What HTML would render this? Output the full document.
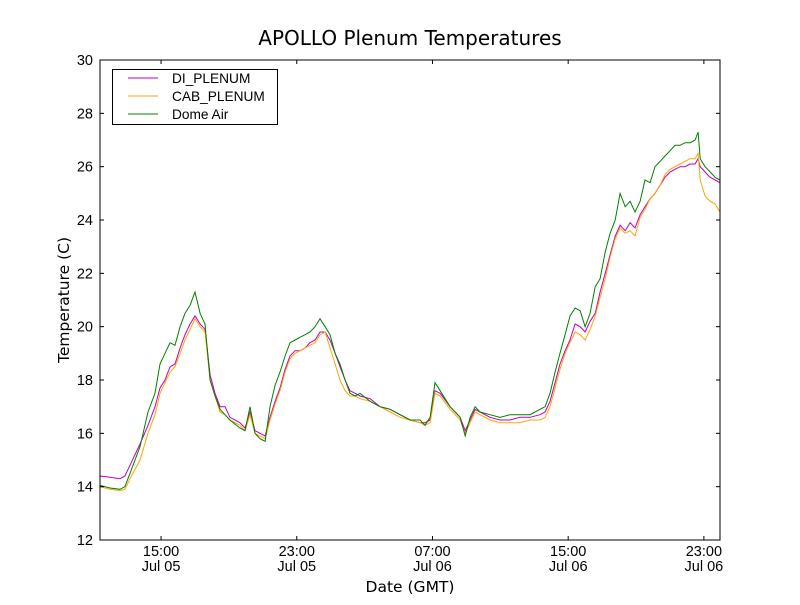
<!DOCTYPE html>
<html><head><meta charset="utf-8"><style>
body{margin:0;background:#fff}
svg text{font-family:"Liberation Sans","DejaVu Sans",sans-serif;fill:#000}
svg text.dv{font-family:"DejaVu Sans","Liberation Sans",sans-serif}
</style></head><body>
<svg id="chart" width="800" height="600" xmlns="http://www.w3.org/2000/svg">
<rect width="800" height="600" fill="#fff"/>
<text class="dv" x="410" y="45" font-size="20" text-anchor="middle">APOLLO Plenum Temperatures</text>
<g id="plot"></g>
<text class="dv" x="410" y="592" font-size="15.5" text-anchor="middle">Date (GMT)</text>
<text class="dv" transform="translate(69,300) rotate(-90)" font-size="15.5" text-anchor="middle">Temperature (C)</text>
</svg>
<script>
const hours=[11.40,11.99,12.58,12.87,13.17,13.76,14.23,14.64,14.94,15.23,15.53,15.82,16.12,16.41,16.71,17.00,17.30,17.59,17.89,18.18,18.48,18.77,19.06,19.65,19.95,20.24,20.54,20.83,21.13,21.42,21.72,22.01,22.31,22.60,22.90,23.19,23.49,23.78,24.08,24.37,24.67,24.96,25.26,25.55,25.85,26.14,26.44,26.73,27.32,27.91,28.50,29.09,29.68,30.27,30.56,30.86,31.15,31.45,32.04,32.63,32.93,33.22,33.51,33.80,34.39,34.98,35.57,36.16,36.75,37.34,37.64,37.93,38.23,38.52,38.82,39.11,39.41,39.70,40.00,40.29,40.59,40.88,41.18,41.47,41.77,42.06,42.36,42.65,42.94,43.24,43.53,43.83,44.12,44.42,44.71,45.01,45.30,45.60,45.89,46.19,46.48,46.66,46.78,47.07,47.37,47.66,47.95];
const diPlenum=[14.4,14.35,14.3,14.4,14.8,15.6,16.3,17.0,17.7,18.0,18.5,18.6,19.2,19.7,20.1,20.4,20.1,19.9,18.2,17.5,17.0,17.0,16.6,16.4,16.2,16.8,16.1,16.0,15.9,16.6,17.2,17.7,18.4,18.9,19.1,19.1,19.2,19.4,19.5,19.8,19.8,19.5,19.0,18.5,18.0,17.6,17.5,17.4,17.3,17.0,16.9,16.7,16.5,16.4,16.4,16.5,17.6,17.5,17.0,16.6,16.1,16.5,16.9,16.8,16.6,16.5,16.5,16.6,16.6,16.7,16.8,17.2,17.9,18.6,19.1,19.5,20.1,20.0,19.8,20.2,20.5,21.3,22.0,22.7,23.4,23.8,23.6,23.9,23.7,24.2,24.5,24.8,25.0,25.3,25.6,25.8,25.9,26.0,26.0,26.1,26.1,26.3,26.0,25.8,25.6,25.5,25.4];
const cabPlenum=[14.0,13.9,13.85,13.9,14.3,15.0,16.0,16.7,17.5,17.9,18.3,18.5,19.0,19.5,19.9,20.3,20.0,19.8,18.0,17.4,16.8,16.7,16.5,16.3,16.1,16.7,16.0,15.9,15.8,16.5,17.1,17.6,18.3,18.8,19.0,19.1,19.2,19.3,19.4,19.7,19.8,19.2,18.6,18.0,17.6,17.4,17.4,17.3,17.2,17.0,16.8,16.6,16.5,16.4,16.3,16.4,17.5,17.4,16.9,16.5,16.0,16.4,16.8,16.7,16.5,16.4,16.4,16.4,16.5,16.5,16.6,17.0,17.7,18.4,19.0,19.4,19.8,19.7,19.5,19.9,20.4,21.1,21.8,22.6,23.3,23.7,23.5,23.6,23.4,24.1,24.4,24.8,25.0,25.3,25.7,25.9,26.0,26.1,26.2,26.3,26.3,26.5,25.5,24.9,24.7,24.6,24.3];
const domeAir=[14.05,13.95,13.9,14.0,14.5,15.5,16.8,17.5,18.6,19.0,19.4,19.3,20.0,20.5,20.8,21.3,20.5,20.1,18.0,17.4,16.9,16.7,16.5,16.2,16.1,17.0,16.0,15.8,15.7,17.0,17.8,18.3,18.9,19.4,19.5,19.6,19.7,19.8,20.0,20.3,20.0,19.7,19.0,18.6,18.0,17.5,17.4,17.5,17.2,17.0,16.9,16.7,16.5,16.5,16.3,16.6,17.9,17.6,17.0,16.6,15.9,16.6,17.0,16.8,16.7,16.6,16.7,16.7,16.7,16.9,17.0,17.5,18.3,19.0,19.7,20.4,20.7,20.6,20.0,20.5,21.5,21.8,22.8,23.5,24.0,25.0,24.5,24.7,24.3,24.7,25.5,25.4,26.0,26.2,26.4,26.6,26.8,26.8,26.9,26.9,27.0,27.3,26.3,26.0,25.8,25.6,25.5];
const yTicks=[12,14,16,18,20,22,24,26,28,30];
const xTickHours=[15,23,31,39,47];
const xTickTimes=["15:00","23:00","07:00","15:00","23:00"];
const xTickDates=["Jul 05","Jul 05","Jul 06","Jul 06","Jul 06"];
const seriesNames=["DI_PLENUM","CAB_PLENUM","Dome Air"];
const seriesColors=["#bf00bf","#ffa500","#008000"];

const L=100,R=720,T=60,B=540,xMin=11.4,xMax=47.95,yMin=12,yMax=30;
const xs=h=>L+(h-xMin)/(xMax-xMin)*(R-L);
const ys=v=>B-(v-yMin)/(yMax-yMin)*(B-T);
const NS="http://www.w3.org/2000/svg";
const g=document.getElementById('plot');
function mk(tag,attrs,parent){const e=document.createElementNS(NS,tag);for(const k in attrs)e.setAttribute(k,attrs[k]);(parent||g).appendChild(e);return e;}

const clip=mk('clipPath',{id:'c'});mk('rect',{x:L,y:T,width:R-L,height:B-T},clip);
const data=[diPlenum,cabPlenum,domeAir];
const lineNames=['di-plenum-line','cab-plenum-line','dome-air-line'];
data.forEach((arr,i)=>{
  const d=arr.map((v,j)=>(j?'L':'M')+xs(hours[j]).toFixed(1)+' '+ys(v).toFixed(1)).join(' ');
  const p=mk('path',{d:d,fill:'none',stroke:seriesColors[i],'stroke-width':1,'clip-path':'url(#c)'});
  
  
});
const frame=mk('rect',{x:L,y:T,width:R-L,height:B-T,fill:'none',stroke:'#000','stroke-width':1});



yTicks.forEach(v=>{
  const y=ys(v);
  mk('line',{x1:L,x2:L+4,y1:y,y2:y,stroke:'#000'});
  mk('line',{x1:R,x2:R-4,y1:y,y2:y,stroke:'#000'});
  const t=mk('text',{x:L-7,y:y+5,'font-size':14.5,'text-anchor':'end'});
  t.textContent=v;
  
  
});
xTickHours.forEach((h,i)=>{
  const x=xs(h);
  mk('line',{x1:x,x2:x,y1:B,y2:B-4,stroke:'#000'});
  mk('line',{x1:x,x2:x,y1:T,y2:T+4,stroke:'#000'});
  const t=mk('text',{x:x,y:B+16,'font-size':14.5,'text-anchor':'middle'});
  t.textContent=xTickTimes[i];
  
  
  const t2=mk('text',{x:x,y:B+31,'font-size':14.5,'text-anchor':'middle'});
  t2.textContent=xTickDates[i];
  
  
});

const lg=mk('g',{});


mk('rect',{x:112.5,y:69.5,width:165,height:55,fill:'#fff',stroke:'#000'},lg);
seriesNames.forEach((n,i)=>{
  const y=78+i*18;
  const en=mk('g',{},lg);
  
  
  mk('line',{x1:128,x2:158,y1:y,y2:y,stroke:seriesColors[i]},en);
  const t=mk('text',{x:172,y:y+5,'font-size':13.7},en);
  t.textContent=n;
});
</script>
</body></html>
